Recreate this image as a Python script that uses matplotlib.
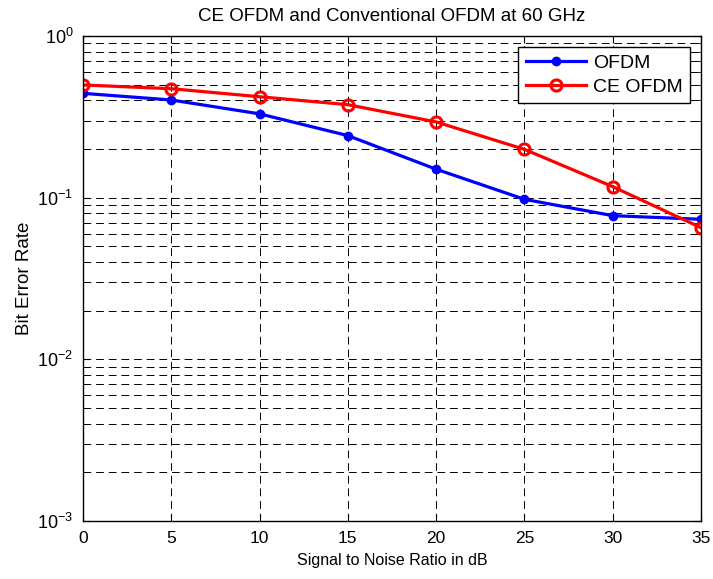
import numpy as np
import matplotlib
matplotlib.use("Agg")
import matplotlib.pyplot as plt
from matplotlib.ticker import LogLocator, FixedLocator

plt.rcParams['font.family'] = ['Liberation Sans', 'DejaVu Sans']
plt.rcParams['mathtext.fontset'] = 'custom'
plt.rcParams['mathtext.rm'] = 'Liberation Sans'
plt.rcParams['mathtext.it'] = 'Liberation Sans'

# SNR values (dB)
snr_db = [0, 5, 10, 15, 20, 25, 30, 35]

# bit error rates
ber_ofdm = [0.442, 0.402, 0.330, 0.242, 0.150, 0.0977, 0.0774, 0.0735]
ber_ce_ofdm = [0.498, 0.472, 0.421, 0.376, 0.294, 0.199, 0.117, 0.0652]

x_ticks = [0, 5, 10, 15, 20, 25, 30, 35]


def plot_ber():
    fig = plt.figure(figsize=(7.13, 5.79), dpi=100)
    ax = fig.add_axes([83 / 713, 1 - 521 / 579, 618 / 713, 485 / 579])

    ax.semilogy(snr_db, ber_ofdm, color='#0000ff', linewidth=2.3,
                marker='o', markersize=6, markerfacecolor='#0000ff',
                label='OFDM')
    ax.semilogy(snr_db, ber_ce_ofdm, color='#ff0000', linewidth=2.3,
                marker='o', markersize=8, markerfacecolor='none',
                markeredgewidth=2.2, label='CE OFDM')

    ax.set_xlim(0, 35)
    ax.set_ylim(1e-3, 1)
    ax.xaxis.set_major_locator(FixedLocator(x_ticks))
    ax.yaxis.set_major_locator(LogLocator(base=10, numticks=10))
    ax.yaxis.set_minor_locator(LogLocator(base=10, subs=np.arange(2, 10), numticks=20))

    ax.grid(True, which='major', axis='both', color='black', linestyle=(0, (8, 5)), linewidth=0.7)
    ax.grid(True, which='minor', axis='y', color='black', linestyle=(0, (8, 5)), linewidth=0.7)

    ax.tick_params(which='both', direction='in', top=True, right=True)
    ax.tick_params(which='major', length=5)
    ax.tick_params(which='minor', length=3)
    ax.tick_params(axis='y', labelsize=13, pad=7)
    ax.tick_params(axis='x', labelsize=12.5, pad=7)
    for spine in ax.spines.values():
        spine.set_linewidth(1.0)

    ax.set_title('CE OFDM and Conventional OFDM at 60 GHz', fontsize=13.5, pad=11)
    ax.set_xlabel('Signal to Noise Ratio in dB', fontsize=11.5, labelpad=5)
    ax.set_ylabel('Bit Error Rate', fontsize=13.5, labelpad=3)

    leg = ax.legend(loc='upper right', fontsize=14, fancybox=False, framealpha=1,
                    edgecolor='black', handlelength=3.1, handletextpad=0.35,
                    labelspacing=0.3, borderpad=0.4, borderaxespad=0.55)
    leg.get_frame().set_linewidth(1.0)

    fig.savefig('out.png', dpi=100)


if __name__ == "__main__":
    plot_ber()
